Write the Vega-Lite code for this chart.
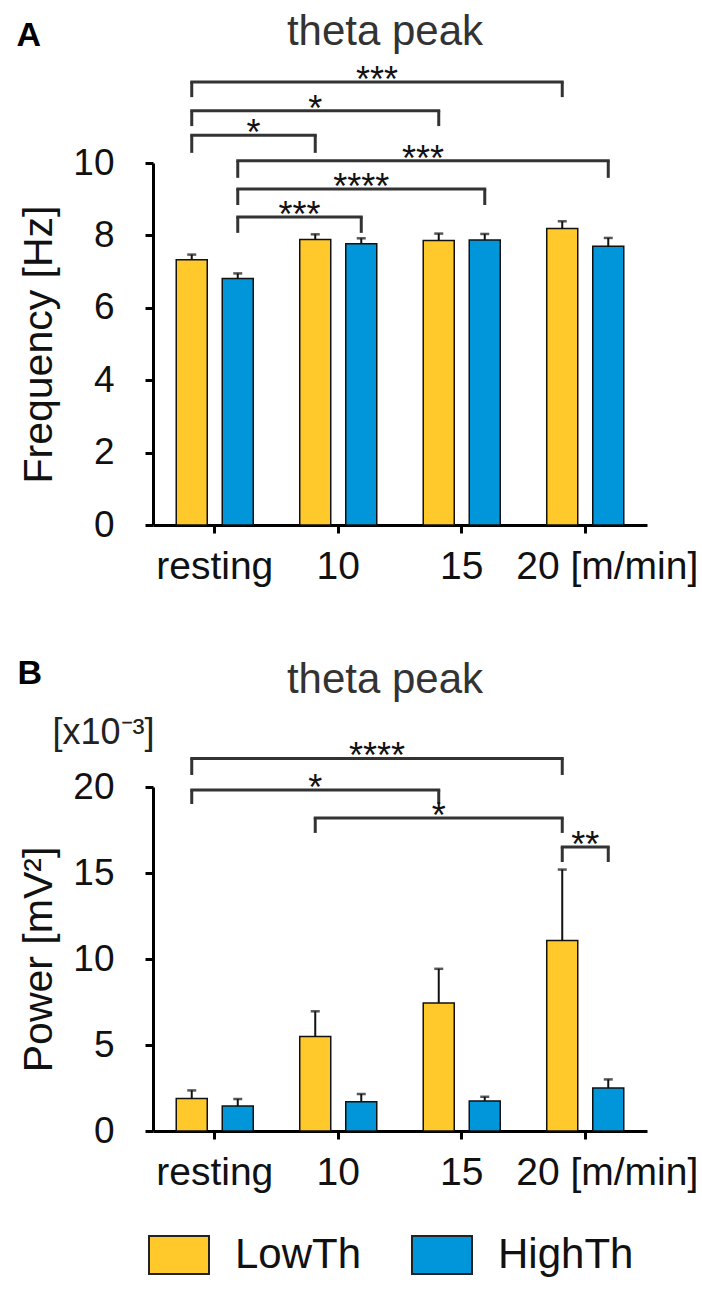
{
  "$schema": "https://vega.github.io/schema/vega-lite/v6.json",
  "background": "white",
  "padding": {"left": 16, "top": 11, "right": 0, "bottom": 0},
  "config": {
    "font": "Liberation Sans",
    "view": {"stroke": null},
    "axis": {
      "domainColor": "#000", "domainWidth": 3, "tickColor": "#000", "tickWidth": 3, "tickSize": 8,
      "labelFont": "Liberation Sans", "labelColor": "#111",
      "titleFont": "Liberation Sans", "titleFontSize": 41, "titleFontWeight": "normal", "titleColor": "#111",
      "grid": false, "labelLimit": 400, "labelOverlap": false
    },
    "axisX": {"labelPadding": 14, "labelAngle": 0, "labelFontSize": 39},
    "axisY": {"labelPadding": 31, "titlePadding": 12, "labelFontSize": 37},
    "title": {"font": "Liberation Sans", "fontSize": 42, "fontWeight": "normal", "color": "#333", "frame": "group", "anchor": "middle", "baseline": "alphabetic"}
  },
  "datasets": {
    "bars": [
      {"panel": "A", "group": "resting", "cond": "LowTh", "value": 7.33, "upper": 7.47},
      {"panel": "A", "group": "resting", "cond": "HighTh", "value": 6.81, "upper": 6.95},
      {"panel": "A", "group": "10", "cond": "LowTh", "value": 7.89, "upper": 8.03},
      {"panel": "A", "group": "10", "cond": "HighTh", "value": 7.77, "upper": 7.92},
      {"panel": "A", "group": "15", "cond": "LowTh", "value": 7.86, "upper": 8.05},
      {"panel": "A", "group": "15", "cond": "HighTh", "value": 7.87, "upper": 8.04},
      {"panel": "A", "group": "20", "cond": "LowTh", "value": 8.19, "upper": 8.39},
      {"panel": "A", "group": "20", "cond": "HighTh", "value": 7.70, "upper": 7.93},
      {"panel": "B", "group": "resting", "cond": "LowTh", "value": 1.89, "upper": 2.36},
      {"panel": "B", "group": "resting", "cond": "HighTh", "value": 1.45, "upper": 1.86},
      {"panel": "B", "group": "10", "cond": "LowTh", "value": 5.5, "upper": 6.96},
      {"panel": "B", "group": "10", "cond": "HighTh", "value": 1.7, "upper": 2.15},
      {"panel": "B", "group": "15", "cond": "LowTh", "value": 7.44, "upper": 9.43},
      {"panel": "B", "group": "15", "cond": "HighTh", "value": 1.75, "upper": 1.99},
      {"panel": "B", "group": "20", "cond": "LowTh", "value": 11.07, "upper": 15.2},
      {"panel": "B", "group": "20", "cond": "HighTh", "value": 2.5, "upper": 3.0}
    ],
    "bracketsA": [
      {"g1": "resting", "c1": "LowTh", "g2": "20", "c2": "LowTh", "level": 12.24, "leg": 11.82, "stars": "***"},
      {"g1": "resting", "c1": "LowTh", "g2": "15", "c2": "LowTh", "level": 11.44, "leg": 11.02, "stars": "*"},
      {"g1": "resting", "c1": "LowTh", "g2": "10", "c2": "LowTh", "level": 10.77, "leg": 10.28, "stars": "*"},
      {"g1": "resting", "c1": "HighTh", "g2": "20", "c2": "HighTh", "level": 10.06, "leg": 9.59, "stars": "***"},
      {"g1": "resting", "c1": "HighTh", "g2": "15", "c2": "HighTh", "level": 9.28, "leg": 8.84, "stars": "****"},
      {"g1": "resting", "c1": "HighTh", "g2": "10", "c2": "HighTh", "level": 8.51, "leg": 8.07, "stars": "***"}
    ],
    "bracketsB": [
      {"g1": "resting", "c1": "LowTh", "g2": "20", "c2": "LowTh", "level": 21.66, "leg": 20.7, "stars": "****"},
      {"g1": "resting", "c1": "LowTh", "g2": "15", "c2": "LowTh", "level": 19.83, "leg": 19.01, "stars": "*"},
      {"g1": "10", "c1": "LowTh", "g2": "20", "c2": "LowTh", "level": 18.2, "leg": 17.33, "stars": "*"},
      {"g1": "20", "c1": "LowTh", "g2": "20", "c2": "HighTh", "level": 16.51, "leg": 15.64, "stars": "**"}
    ]
  },
  "resolve": {"scale": {"x": "independent", "y": "independent", "xOffset": "independent", "color": "shared"}},
  "spacing": 70,
  "vconcat": [
    {
      "name": "pA",
      "width": 494,
      "height": 362,
      "title": {"text": "theta peak", "offset": -36, "dx": -15},
      "resolve": {"axis": {"x": "independent", "y": "independent"}},
      "layer": [
        {
          "data": {"name": "bars"},
          "transform": [{"filter": "datum.panel === 'A'"}],
          "mark": {"type": "bar", "stroke": "#111", "strokeWidth": 1.5},
          "encoding": {
            "x": {"field": "group", "type": "nominal", "sort": null,
              "scale": {"domain": ["resting", "10", "15", "20"], "paddingInner": 0, "paddingOuter": 0},
              "axis": {"orient": "bottom", "title": null,
                "labelExpr": "datum.value === '20' ? '20 [m/min]' : datum.value",
                "labelOffset": {"condition": {"test": "datum.value === '20'", "value": 22}, "value": 0}}},
            "xOffset": {"field": "cond", "type": "nominal", "sort": null,
              "scale": {"domain": ["LowTh", "HighTh"], "paddingInner": 0.326, "paddingOuter": 0.505}},
            "y": {"field": "value", "type": "quantitative",
              "scale": {"domain": [0, 10], "nice": false},
              "axis": {"orient": "left", "title": "Frequency [Hz]", "values": [0, 2, 4, 6, 8, 10]}},
            "color": {"field": "cond", "type": "nominal",
              "scale": {"domain": ["LowTh", "HighTh"], "range": ["#FFC92B", "#0096D9"]},
              "legend": {"title": null, "orient": "none", "legendX": -5, "legendY": 1061, "direction": "horizontal",
                "symbolType": "M-1,-0.633H1V0.633H-1Z", "symbolSize": 3600, "symbolStrokeColor": "#222",
                "symbolStrokeWidth": 2, "labelFontSize": 42, "labelOffset": 25, "columnPadding": 46, "labelColor": "#111"}}
          }
        },
        {
          "data": {"name": "bars"},
          "transform": [{"filter": "datum.panel === 'A'"}],
          "mark": {"type": "rule", "color": "#111", "strokeWidth": 2},
          "encoding": {
            "x": {"field": "group", "type": "nominal", "scale": {"domain": ["resting", "10", "15", "20"]}, "axis": null},
            "xOffset": {"field": "cond", "type": "nominal", "scale": {"domain": ["LowTh", "HighTh"]}},
            "y": {"field": "value", "type": "quantitative", "axis": null},
            "y2": {"field": "upper"}
          }
        },
        {
          "data": {"name": "bars"},
          "transform": [{"filter": "datum.panel === 'A'"}],
          "mark": {"type": "tick", "color": "#111", "size": 9, "thickness": 2.5},
          "encoding": {
            "x": {"field": "group", "type": "nominal", "scale": {"domain": ["resting", "10", "15", "20"]}, "axis": null},
            "xOffset": {"field": "cond", "type": "nominal", "scale": {"domain": ["LowTh", "HighTh"]}},
            "y": {"field": "upper", "type": "quantitative", "axis": null}
          }
        },
        {
          "data": {"name": "bracketsA"},
          "mark": {"type": "rule", "color": "#333", "strokeWidth": 3, "strokeCap": "square",
            "x": {"expr": "scale('pA_x', datum.g1) + scale('pA_xOffset', datum.c1) + bandwidth('pA_xOffset') / 2"},
            "x2": {"expr": "scale('pA_x', datum.g2) + scale('pA_xOffset', datum.c2) + bandwidth('pA_xOffset') / 2"}},
          "encoding": {
            "y": {"field": "level", "type": "quantitative", "axis": null}
          }
        },
        {
          "data": {"name": "bracketsA"},
          "mark": {"type": "rule", "color": "#333", "strokeWidth": 3},
          "encoding": {
            "x": {"field": "g1", "type": "nominal", "scale": {"domain": ["resting", "10", "15", "20"]},
              "axis": {"orient": "top", "title": "A", "domain": false, "ticks": false, "labels": false,
                "titleFontSize": 34, "titleFontWeight": "bold", "titleColor": "#000", "titleAngle": 0,
                "titleAlign": "left", "titleBaseline": "alphabetic", "titleX": -137, "titleY": -118}},
            "xOffset": {"field": "c1", "type": "nominal", "scale": {"domain": ["LowTh", "HighTh"]}},
            "y": {"field": "level", "type": "quantitative", "axis": null},
            "y2": {"field": "leg"}
          }
        },
        {
          "data": {"name": "bracketsA"},
          "mark": {"type": "rule", "color": "#333", "strokeWidth": 3},
          "encoding": {
            "x": {"field": "g2", "type": "nominal", "scale": {"domain": ["resting", "10", "15", "20"]}, "axis": null},
            "xOffset": {"field": "c2", "type": "nominal", "scale": {"domain": ["LowTh", "HighTh"]}},
            "y": {"field": "level", "type": "quantitative", "axis": null},
            "y2": {"field": "leg"}
          }
        },
        {
          "data": {"name": "bracketsA"},
          "mark": {"type": "text", "fontSize": 36, "color": "#111", "baseline": "alphabetic", "align": "center", "dy": 10,
            "x": {"expr": "(scale('pA_x', datum.g1) + scale('pA_x', datum.g2) + scale('pA_xOffset', datum.c1) + scale('pA_xOffset', datum.c2) + bandwidth('pA_xOffset')) / 2"}},
          "encoding": {
            "y": {"field": "level", "type": "quantitative", "axis": null},
            "text": {"field": "stars"}
          }
        }
      ]
    },
    {
      "name": "pB",
      "width": 494,
      "height": 344,
      "title": {"text": "theta peak", "offset": -46, "dx": -15},
      "resolve": {"axis": {"x": "independent", "y": "independent"}},
      "layer": [
        {
          "data": {"name": "bars"},
          "transform": [{"filter": "datum.panel === 'B'"}],
          "mark": {"type": "bar", "stroke": "#111", "strokeWidth": 1.5},
          "encoding": {
            "x": {"field": "group", "type": "nominal", "sort": null,
              "scale": {"domain": ["resting", "10", "15", "20"], "paddingInner": 0, "paddingOuter": 0},
              "axis": {"orient": "bottom", "title": null,
                "labelExpr": "datum.value === '20' ? '20 [m/min]' : datum.value",
                "labelOffset": {"condition": {"test": "datum.value === '20'", "value": 22}, "value": 0}}},
            "xOffset": {"field": "cond", "type": "nominal", "sort": null,
              "scale": {"domain": ["LowTh", "HighTh"], "paddingInner": 0.326, "paddingOuter": 0.505}},
            "y": {"field": "value", "type": "quantitative",
              "scale": {"domain": [0, 20], "nice": false},
              "axis": {"orient": "left", "title": "Power [mV²]", "values": [0, 5, 10, 15, 20]}},
            "color": {"field": "cond", "type": "nominal",
              "scale": {"domain": ["LowTh", "HighTh"], "range": ["#FFC92B", "#0096D9"]},
              "legend": {"title": null, "orient": "none", "legendX": -5, "legendY": 1061, "direction": "horizontal",
                "symbolType": "M-1,-0.633H1V0.633H-1Z", "symbolSize": 3600, "symbolStrokeColor": "#222",
                "symbolStrokeWidth": 2, "labelFontSize": 42, "labelOffset": 25, "columnPadding": 46, "labelColor": "#111"}}
          }
        },
        {
          "data": {"name": "bars"},
          "transform": [{"filter": "datum.panel === 'B'"}],
          "mark": {"type": "rule", "color": "#111", "strokeWidth": 2},
          "encoding": {
            "x": {"field": "group", "type": "nominal", "scale": {"domain": ["resting", "10", "15", "20"]}, "axis": null},
            "xOffset": {"field": "cond", "type": "nominal", "scale": {"domain": ["LowTh", "HighTh"]}},
            "y": {"field": "value", "type": "quantitative", "axis": null},
            "y2": {"field": "upper"}
          }
        },
        {
          "data": {"name": "bars"},
          "transform": [{"filter": "datum.panel === 'B'"}],
          "mark": {"type": "tick", "color": "#111", "size": 9, "thickness": 2.5},
          "encoding": {
            "x": {"field": "group", "type": "nominal", "scale": {"domain": ["resting", "10", "15", "20"]}, "axis": null},
            "xOffset": {"field": "cond", "type": "nominal", "scale": {"domain": ["LowTh", "HighTh"]}},
            "y": {"field": "upper", "type": "quantitative", "axis": null}
          }
        },
        {
          "data": {"name": "bracketsB"},
          "mark": {"type": "rule", "color": "#333", "strokeWidth": 3, "strokeCap": "square",
            "x": {"expr": "scale('pB_x', datum.g1) + scale('pB_xOffset', datum.c1) + bandwidth('pB_xOffset') / 2"},
            "x2": {"expr": "scale('pB_x', datum.g2) + scale('pB_xOffset', datum.c2) + bandwidth('pB_xOffset') / 2"}},
          "encoding": {
            "y": {"field": "level", "type": "quantitative", "axis": null}
          }
        },
        {
          "data": {"name": "bracketsB"},
          "mark": {"type": "rule", "color": "#333", "strokeWidth": 3},
          "encoding": {
            "x": {"field": "g1", "type": "nominal", "scale": {"domain": ["resting", "10", "15", "20"]},
              "axis": {"orient": "top", "title": "B", "domain": false, "ticks": false, "labels": false,
                "titleFontSize": 34, "titleFontWeight": "bold", "titleColor": "#000", "titleAngle": 0,
                "titleAlign": "left", "titleBaseline": "alphabetic", "titleX": -136, "titleY": -104}},
            "xOffset": {"field": "c1", "type": "nominal", "scale": {"domain": ["LowTh", "HighTh"]}},
            "y": {"field": "level", "type": "quantitative",
              "axis": {"orient": "right", "title": "[x10⁻³]", "domain": false, "ticks": false, "labels": false,
                "titleFontSize": 36, "titleFontWeight": "normal", "titleColor": "#222", "titleAngle": 0,
                "titleAlign": "left", "titleBaseline": "alphabetic", "titleX": -595, "titleY": -44}},
            "y2": {"field": "leg"}
          }
        },
        {
          "data": {"name": "bracketsB"},
          "mark": {"type": "rule", "color": "#333", "strokeWidth": 3},
          "encoding": {
            "x": {"field": "g2", "type": "nominal", "scale": {"domain": ["resting", "10", "15", "20"]}, "axis": null},
            "xOffset": {"field": "c2", "type": "nominal", "scale": {"domain": ["LowTh", "HighTh"]}},
            "y": {"field": "level", "type": "quantitative", "axis": null},
            "y2": {"field": "leg"}
          }
        },
        {
          "data": {"name": "bracketsB"},
          "mark": {"type": "text", "fontSize": 36, "color": "#111", "baseline": "alphabetic", "align": "center", "dy": 10,
            "x": {"expr": "(scale('pB_x', datum.g1) + scale('pB_x', datum.g2) + scale('pB_xOffset', datum.c1) + scale('pB_xOffset', datum.c2) + bandwidth('pB_xOffset')) / 2"}},
          "encoding": {
            "y": {"field": "level", "type": "quantitative", "axis": null},
            "text": {"field": "stars"}
          }
        }
      ]
    }
  ]
}
